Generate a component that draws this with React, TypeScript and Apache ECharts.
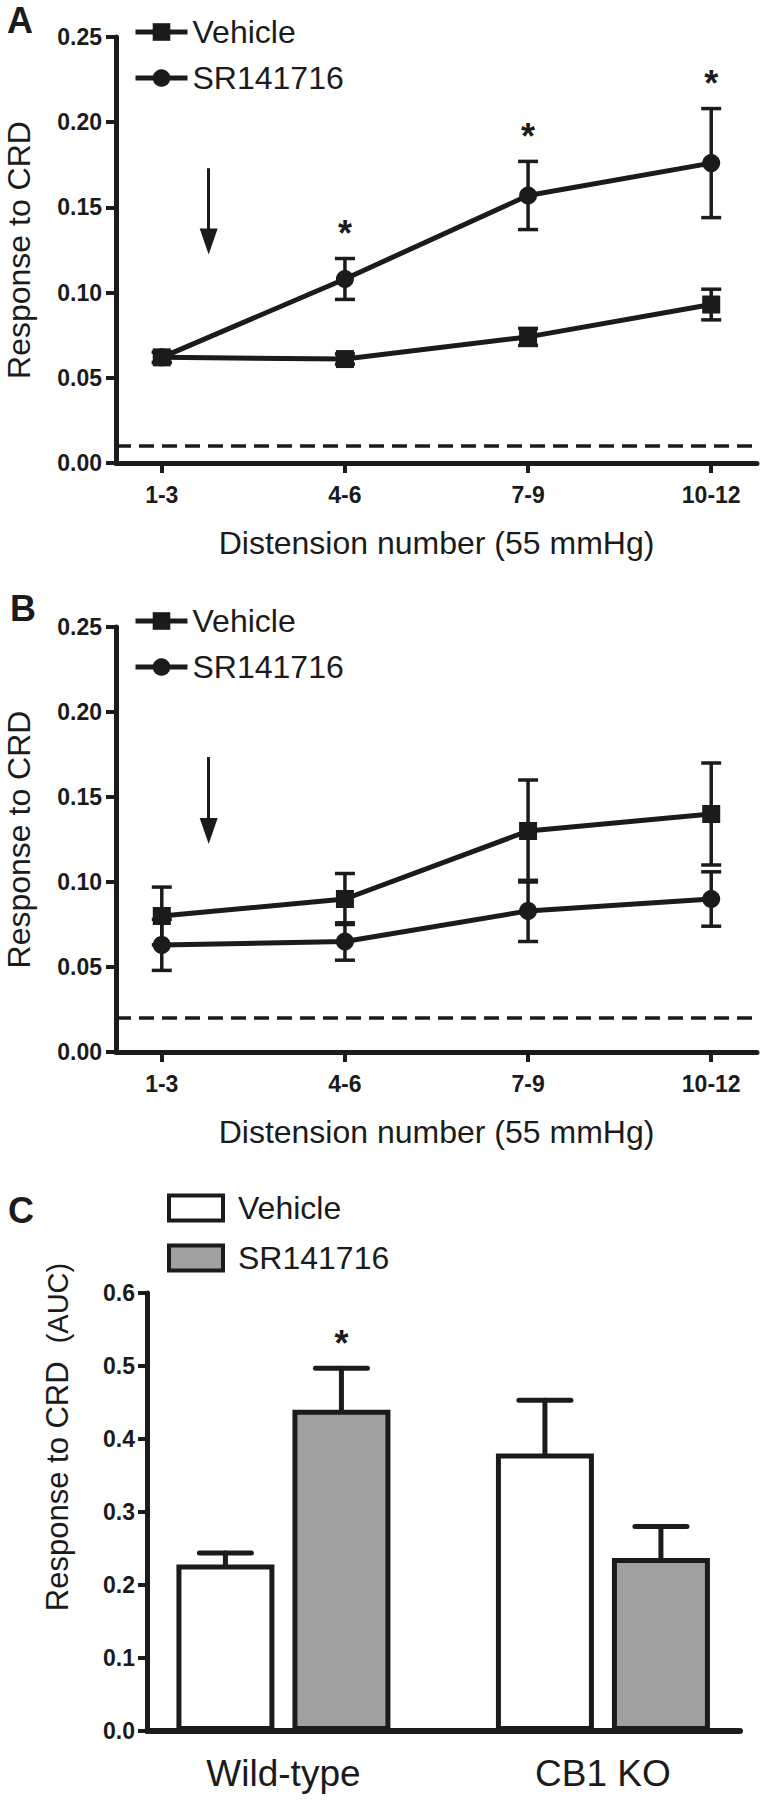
import React, { useEffect, useRef } from "react";
import * as echarts from "echarts";

// ---------- data ----------
const distensionLabels = ["1-3", "4-6", "7-9", "10-12"];
const distensionPos = [1, 2, 3, 4];

const aVehicleMean = [0.062, 0.061, 0.074, 0.093];
const aVehicleSem = [0.003, 0.003, 0.005, 0.009];
const aSrMean = [0.062, 0.108, 0.157, 0.176];
const aSrSem = [0.003, 0.012, 0.02, 0.032];
const aSrSig = [0, 1, 1, 1];
const aBaseline = 0.012;
const aArrow = [1.256, 0.173, 0.13];

const bVehicleMean = [0.08, 0.09, 0.13, 0.14];
const bVehicleSem = [0.017, 0.015, 0.03, 0.03];
const bSrMean = [0.063, 0.065, 0.083, 0.09];
const bSrSem = [0.015, 0.011, 0.018, 0.016];
const bBaseline = 0.02;
const bArrow = [1.256, 0.1735, 0.13];

const groups = ["Wild-type", "CB1 KO"];
const groupPos = [1, 2];
const cVehicleMean = [0.228, 0.38];
const cVehicleSem = [0.016, 0.073];
const cSrMean = [0.44, 0.237];
const cSrSem = [0.057, 0.043];
const cSrSig = [1, 0];

// ---------- style ----------
const INK = "#1b1b1b";
const GRAY = "#a0a0a0";
const FONT = "'Liberation Sans', Arial, Helvetica, sans-serif";
const BAR_W = 98;
const BAR_GAP_PX = 18;
const BAR_OFFSET = (BAR_W + BAR_GAP_PX) / 2;

const pairs = (xs: number[], ys: number[]) => xs.map((x, i) => [x, ys[i]]);
const errData = (xs: number[], m: number[], s: number[], sig?: number[]) =>
  xs.map((x, i) => [x, m[i], s[i], sig ? sig[i] : 0]);

const star = (x: number, y: number) => ({
  type: "text",
  x,
  y,
  style: {
    text: "*",
    fontSize: 36,
    fontWeight: "bold",
    fontFamily: FONT,
    fill: INK,
    align: "center",
    verticalAlign: "middle",
  },
});

const twoSidedErr = (params: any, api: any) => {
  const x = api.value(0);
  const m = api.value(1);
  const s = api.value(2);
  const sig = api.value(3);
  const top = api.coord([x, m + s]);
  const bot = api.coord([x, m - s]);
  const st = { stroke: INK, lineWidth: 3.5 };
  const cap = 10;
  const children: any[] = [
    { type: "line", shape: { x1: top[0], y1: top[1], x2: bot[0], y2: bot[1] }, style: st },
    { type: "line", shape: { x1: top[0] - cap, y1: top[1], x2: top[0] + cap, y2: top[1] }, style: st },
    { type: "line", shape: { x1: bot[0] - cap, y1: bot[1], x2: bot[0] + cap, y2: bot[1] }, style: st },
  ];
  if (sig) children.push(star(top[0], top[1] - 25));
  return { type: "group", children };
};

const upperErr = (params: any, api: any) => {
  const x = api.value(0);
  const m = api.value(1);
  const s = api.value(2);
  const sig = api.value(3);
  const side = api.value(4);
  const base = api.coord([x, m]);
  const top = api.coord([x, m + s]);
  const cx = base[0] + side * BAR_OFFSET;
  const st = { stroke: INK, lineWidth: 5, lineCap: "round" };
  const cap = 26;
  const children: any[] = [
    { type: "line", shape: { x1: cx, y1: base[1], x2: cx, y2: top[1] }, style: st },
    { type: "line", shape: { x1: cx - cap, y1: top[1], x2: cx + cap, y2: top[1] }, style: st },
  ];
  if (sig) children.push(star(cx, top[1] - 25));
  return { type: "group", children };
};

const axisLineStyle = { color: INK, width: 5 };
const tickStyle = { color: INK, width: 4 };
const tickLabel = { fontSize: 23, fontWeight: "bold", color: INK, fontFamily: FONT };

const distXAxis = (gridIndex: number) => ({
  type: "value",
  gridIndex,
  min: 0.75,
  max: 4.25,
  splitLine: { show: false },
  axisLine: { show: true, lineStyle: axisLineStyle },
  axisTick: { show: true, customValues: distensionPos, length: 10, lineStyle: tickStyle },
  axisLabel: {
    customValues: distensionPos,
    formatter: (v: number) => distensionLabels[Math.round(v) - 1],
    margin: 20,
    ...tickLabel,
  },
  name: "Distension number (55 mmHg)",
  nameLocation: "middle",
  nameGap: 64,
  nameTextStyle: { fontSize: 32, color: INK, fontFamily: FONT },
});

const respYAxis = (gridIndex: number) => ({
  type: "value",
  gridIndex,
  min: 0,
  max: 0.25,
  interval: 0.05,
  splitLine: { show: false },
  axisLine: { show: true, lineStyle: axisLineStyle },
  axisTick: { show: true, length: 10, lineStyle: tickStyle },
  axisLabel: { formatter: (v: number) => v.toFixed(2), margin: 14, ...tickLabel },
  name: "Response to CRD",
  nameLocation: "middle",
  nameGap: 81,
  nameTextStyle: { fontSize: 32, color: INK, fontFamily: FONT },
});

const lineSeries = (name: string, idx: number, ys: number[], symbol: string, extra: any = {}) => ({
  type: "line",
  name,
  xAxisIndex: idx,
  yAxisIndex: idx,
  data: pairs(distensionPos, ys),
  symbol,
  symbolSize: 18,
  lineStyle: { color: INK, width: 5 },
  itemStyle: { color: INK },
  z: 3,
  ...extra,
});

const arrowMark = (arrow: number[]) => ({
  silent: true,
  symbol: ["none", "triangle"],
  symbolSize: [18, 26],
  lineStyle: { color: INK, width: 3, type: "solid" },
  label: { show: false },
  data: [[{ coord: [arrow[0], arrow[1]] }, { coord: [arrow[0], arrow[2]] }]],
});

const baselineMark = (v: number) => ({
  silent: true,
  symbol: ["none", "none"],
  lineStyle: { color: INK, width: 3.5, type: [15, 8] },
  label: { show: false },
  data: [{ yAxis: v }],
});

const lineLegend = (top: number) => ({
  left: 133,
  top,
  padding: 0,
  orient: "vertical",
  itemWidth: 52,
  itemHeight: 22,
  itemGap: 14,
  selectedMode: false,
  data: ["Vehicle", "SR141716"],
  textStyle: { fontSize: 32, color: INK, fontFamily: FONT },
  lineStyle: { width: 5 },
});

const panelLetter = (t: string, x: number, y: number) => ({
  type: "text",
  x,
  y,
  style: { text: t, fontSize: 36, fontWeight: "bold", fontFamily: FONT, fill: INK, verticalAlign: "middle" },
});

export default function App() {
  const ref = useRef<HTMLDivElement>(null);
  useEffect(() => {
    if (!ref.current) return;
    const chart = echarts.init(ref.current, undefined, { renderer: "svg" });
    const cErr = [
      ...groupPos.map((x, i) => [x, cVehicleMean[i], cVehicleSem[i], 0, -1]),
      ...groupPos.map((x, i) => [x, cSrMean[i], cSrSem[i], cSrSig[i], 1]),
    ];
    chart.setOption({
      animation: false,
      backgroundColor: "#ffffff",
      textStyle: { fontFamily: FONT },
      grid: [
        { left: 116, top: 37, width: 641, height: 426, outerBoundsMode: "none" },
        { left: 116, top: 627, width: 641, height: 425, outerBoundsMode: "none" },
        { left: 147, top: 1293, width: 593, height: 438, outerBoundsMode: "none" },
      ],
      xAxis: [
        distXAxis(0),
        distXAxis(1),
        {
          type: "value",
          gridIndex: 2,
          min: 0.573,
          max: 2.429,
          splitLine: { show: false },
          axisLine: { show: true, lineStyle: { color: INK, width: 6 } },
          axisTick: { show: false },
          axisLabel: {
            customValues: groupPos,
            formatter: (v: number) => groups[Math.round(v) - 1],
            margin: 24,
            fontSize: 37,
            color: INK,
            fontFamily: FONT,
          },
        },
      ],
      yAxis: [
        respYAxis(0),
        respYAxis(1),
        {
          type: "value",
          gridIndex: 2,
          min: 0,
          max: 0.6,
          interval: 0.1,
          splitLine: { show: false },
          axisLine: { show: true, lineStyle: axisLineStyle },
          axisTick: { show: true, length: 9, lineStyle: tickStyle },
          axisLabel: { formatter: (v: number) => v.toFixed(1), margin: 12, ...tickLabel },
          name: "{a|Response to CRD}{b|(AUC)}",
          nameLocation: "middle",
          nameGap: 74,
          nameTextStyle: {
            color: INK,
            fontFamily: FONT,
            rich: {
              a: { fontSize: 31, color: INK, fontFamily: FONT, padding: [0, 0, 0, 150] },
              b: { fontSize: 29, color: INK, fontFamily: FONT, padding: [0, 0, 0, 18] },
            },
          },
        },
      ],
      legend: [
        lineLegend(16),
        lineLegend(605),
        {
          left: 167,
          top: 1192,
          padding: 0,
          orient: "vertical",
          itemWidth: 54,
          itemHeight: 25,
          itemGap: 18,
          selectedMode: false,
          data: [
            { name: "Vehicle", icon: "rect", itemStyle: { color: "#ffffff", borderColor: INK, borderWidth: 4 } },
            { name: "SR141716", icon: "rect", itemStyle: { color: GRAY, borderColor: INK, borderWidth: 4 } },
          ],
          textStyle: { fontSize: 32, color: INK, fontFamily: FONT, padding: [0, 0, 0, 10] },
        },
      ],
      graphic: [panelLetter("A", 7, 20), panelLetter("B", 10, 608), panelLetter("C", 8, 1210)],
      series: [
        lineSeries("Vehicle", 0, aVehicleMean, "rect", { markLine: arrowMark(aArrow) }),
        lineSeries("SR141716", 0, aSrMean, "circle", { markLine: baselineMark(aBaseline) }),
        {
          type: "custom",
          xAxisIndex: 0,
          yAxisIndex: 0,
          renderItem: twoSidedErr,
          data: errData(distensionPos, aVehicleMean, aVehicleSem),
          z: 2,
          silent: true,
        },
        {
          type: "custom",
          xAxisIndex: 0,
          yAxisIndex: 0,
          renderItem: twoSidedErr,
          data: errData(distensionPos, aSrMean, aSrSem, aSrSig),
          z: 2,
          silent: true,
        },
        lineSeries("Vehicle", 1, bVehicleMean, "rect", { markLine: arrowMark(bArrow) }),
        lineSeries("SR141716", 1, bSrMean, "circle", { markLine: baselineMark(bBaseline) }),
        {
          type: "custom",
          xAxisIndex: 1,
          yAxisIndex: 1,
          renderItem: twoSidedErr,
          data: errData(distensionPos, bVehicleMean, bVehicleSem),
          z: 2,
          silent: true,
        },
        {
          type: "custom",
          xAxisIndex: 1,
          yAxisIndex: 1,
          renderItem: twoSidedErr,
          data: errData(distensionPos, bSrMean, bSrSem),
          z: 2,
          silent: true,
        },
        {
          type: "bar",
          name: "Vehicle",
          xAxisIndex: 2,
          yAxisIndex: 2,
          data: pairs(groupPos, cVehicleMean),
          barWidth: BAR_W,
          barGap: `${(BAR_GAP_PX / BAR_W) * 100}%`,
          itemStyle: { color: "#ffffff", borderColor: INK, borderWidth: 5 },
          z: 3,
        },
        {
          type: "bar",
          name: "SR141716",
          xAxisIndex: 2,
          yAxisIndex: 2,
          data: pairs(groupPos, cSrMean),
          barWidth: BAR_W,
          barGap: `${(BAR_GAP_PX / BAR_W) * 100}%`,
          itemStyle: { color: GRAY, borderColor: INK, borderWidth: 5 },
          z: 3,
        },
        {
          type: "custom",
          xAxisIndex: 2,
          yAxisIndex: 2,
          renderItem: upperErr,
          data: cErr,
          z: 2,
          silent: true,
        },
      ],
    });
    return () => chart.dispose();
  }, []);
  return (
    <div
      ref={ref}
      style={{ position: "absolute", left: 0, top: 0, width: 761, height: 1800, background: "#fff" }}
    />
  );
}
